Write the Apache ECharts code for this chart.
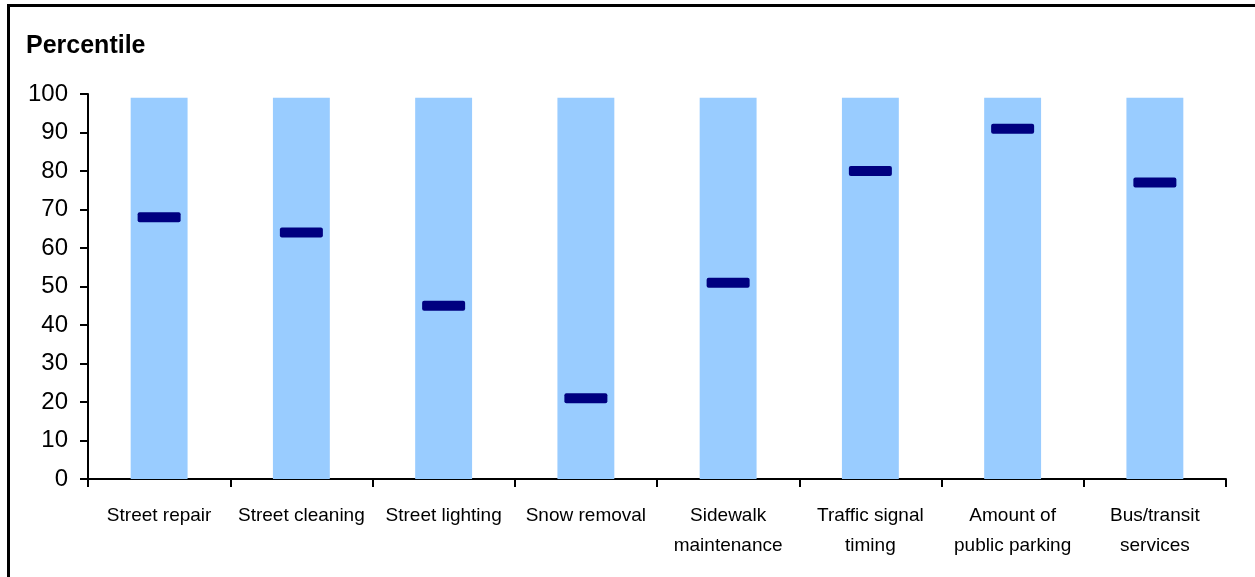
<!DOCTYPE html>
<html>
<head>
<meta charset="utf-8">
<script src="https://cdn.jsdelivr.net/npm/echarts@6/dist/echarts.min.js"></script>
<style>
html,body{margin:0;padding:0;background:#fff;}
#chart{width:1255px;height:577px;}
</style>
</head>
<body>
<div id="chart"></div>
<script>
const categories = ['Street repair','Street cleaning','Street lighting','Snow removal','Sidewalk\nmaintenance','Traffic signal\ntiming','Amount of\npublic parking','Bus/transit\nservices'];
const rangeValues = [99,99,99,99,99,99,99,99];
const percentileValues = [68,64,45,21,51,80,91,77];
const yTicks = {min:0, max:100, interval:10};

const chart = echarts.init(document.getElementById('chart'));
const font = 'Liberation Sans, Arial, sans-serif';
chart.setOption({
  animation:false,
  backgroundColor:'#fff',
  title:{text:'Percentile', left:21, top:29, textStyle:{fontFamily:font, fontSize:25, fontWeight:'bold', color:'#000'}},
  grid:{left:88, right:29, top:94, bottom:98},
  graphic:[{type:'rect', shape:{x:8.5, y:5.5, width:1400, height:800}, style:{fill:'none', stroke:'#000', lineWidth:3}, silent:true}],
  xAxis:{type:'category', data:categories, boundaryGap:true,
    axisLine:{lineStyle:{color:'#000', width:2}},
    axisTick:{show:true, length:8, lineStyle:{color:'#000', width:2}},
    axisLabel:{color:'#000', fontFamily:font, fontSize:19, lineHeight:30, margin:22, interval:0}},
  yAxis:{type:'value', min:yTicks.min, max:yTicks.max, interval:yTicks.interval,
    splitLine:{show:false},
    axisLine:{show:true, lineStyle:{color:'#000', width:2}},
    axisTick:{show:true, length:8, lineStyle:{color:'#000', width:2}},
    axisLabel:{color:'#000', fontFamily:font, fontSize:24, margin:20}},
  series:[
    {type:'bar', data:rangeValues, barWidth:'40%', itemStyle:{color:'#99CCFF'}, silent:true},
    {type:'scatter', data:percentileValues, symbol:'path://M2,0 H41 Q43,0 43,2 V8 Q43,10 41,10 H2 Q0,10 0,8 V2 Q0,0 2,0 Z', symbolSize:[43,10], itemStyle:{color:'#000080', opacity:1}, z:5, silent:true}
  ]
});
</script>
</body>
</html>
